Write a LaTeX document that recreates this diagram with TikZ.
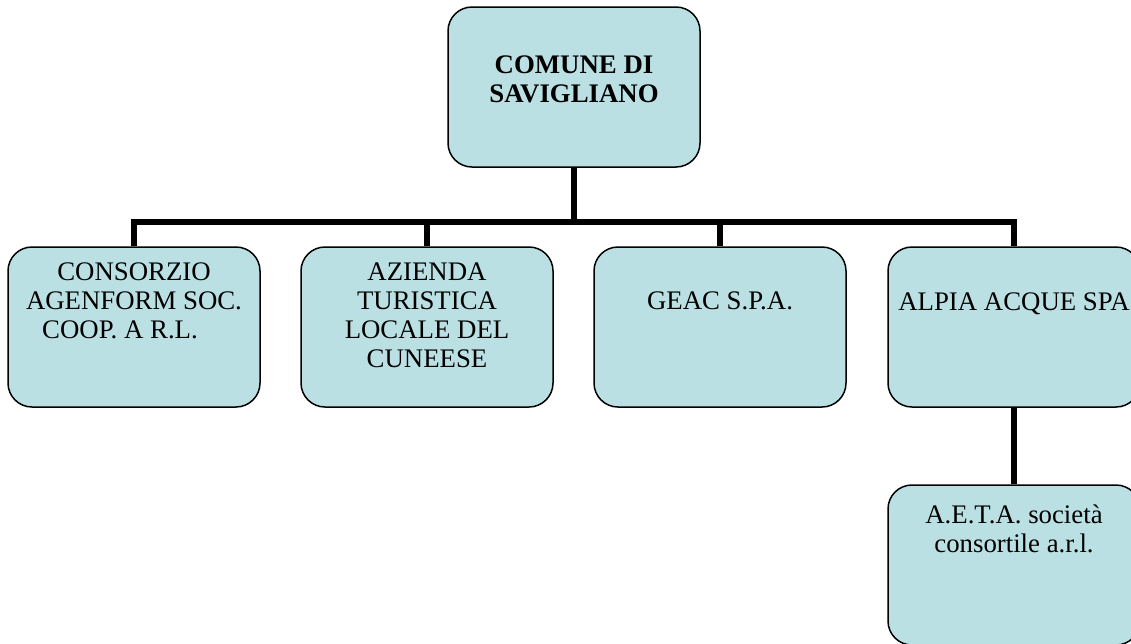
\documentclass[tikz,border=0pt]{standalone}
\usepackage{fontspec}
\setmainfont{Liberation Serif}
\definecolor{boxfill}{RGB}{187,224,227}
\begin{document}
\begin{tikzpicture}[x=1pt,y=-1pt,
  orgbox/.style={draw,line width=1.5pt,fill=boxfill,rounded corners=24pt,
    minimum width=252pt,minimum height=160pt,inner sep=0pt},
  boxtext/.style={anchor=north,inner sep=0pt,align=center,
    font=\fontsize{26.8}{29}\selectfont},
  link/.style={line width=6.5pt}]
  \useasboundingbox (0,0) rectangle (1131,643);
  \clip (0,0) rectangle (1131,643);
  \node[orgbox,label={[boxtext,yshift=-49pt,font=\fontsize{26.8}{29}\selectfont\bfseries]north:COMUNE DI\\SAVIGLIANO}] (comune) at (574,87) {};
  \node[orgbox,label={[boxtext,yshift=-16pt]north:CONSORZIO\\AGENFORM SOC.\\COOP. A R.L.\hspace*{28pt}}] (agenform) at (134,327) {};
  \node[orgbox,label={[boxtext,yshift=-16pt]north:AZIENDA\\TURISTICA\\LOCALE DEL\\CUNEESE}] (atl) at (427,327) {};
  \node[orgbox,label={[boxtext,yshift=-45pt]north:GEAC S.P.A.}] (geac) at (720,327) {};
  \node[orgbox,label={[boxtext,yshift=-46pt]north:ALPIA ACQUE SPA}] (alpia) at (1014,327) {};
  \node[orgbox,label={[boxtext,yshift=-20pt]north:A.E.T.A. società\\consortile a.r.l.}] (aeta) at (1014,565) {};
  \coordinate (bus) at (574,222);
  \draw[link] (comune.south) -- (bus);
  \draw[link] (agenform.north) |- (bus) -| (alpia.north);
  \draw[link] (atl.north) -- (atl.north |- bus);
  \draw[link] (geac.north) -- (geac.north |- bus);
  \draw[link] (alpia.south) -- (aeta.north);
\end{tikzpicture}
\end{document}
